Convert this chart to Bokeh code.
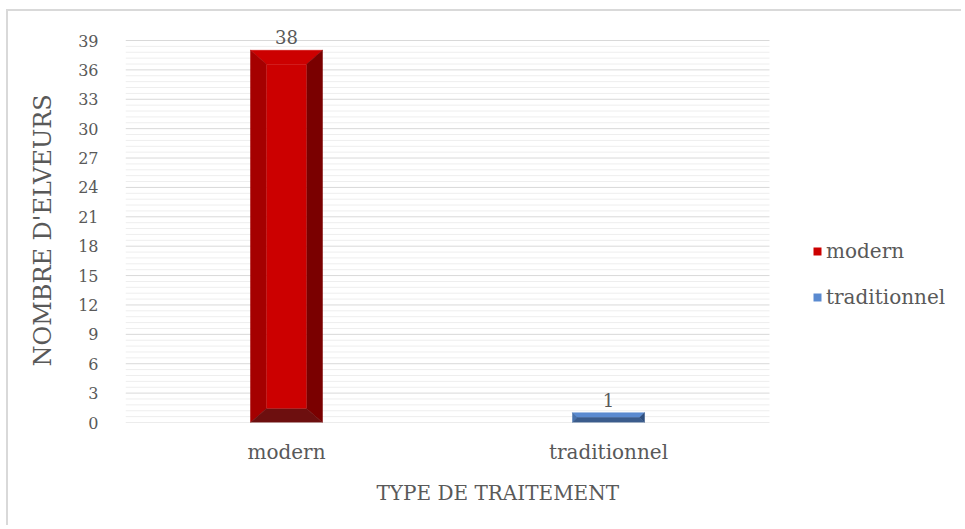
from bokeh.plotting import figure
from bokeh.models import (Range1d, FixedTicker, Legend, LegendItem, ColumnDataSource, Title)
from bokeh.core.properties import value
from bokeh.embed import file_html
from bokeh.resources import INLINE

categories = ["modern", "traditionnel"]
counts = [38, 1]
y_ticks = list(range(0, 40, 3))
y_minor = [round(k * 0.6, 1) for k in range(0, 66) if k % 5 != 0]
x_title = "TYPE DE TRAITEMENT"
y_title = "NOMBRE D'ELVEURS"

FONT = "DejaVu Serif"
TXT = "#595959"

# page coords of content origin (after css margin + border)
OX, OY = 8, 11
W, H = 955, 516
FRAME_L, FRAME_B, Y39 = 125, 422, 40
CAT_R = 769

ML = FRAME_L - OX
MB = (OY + H) - FRAME_B
MT = 4
MR = 0
frame_h = H - MT - MB
frame_w = W - ML - MR
px_y = (FRAME_B - Y39) / 39
px_x = (CAT_R - FRAME_L) / len(categories)
y_end = frame_h / px_y
x_start = -0.5
x_end = x_start + frame_w / px_x
cat_lo, cat_hi = -0.5, len(categories) - 0.5

p = figure(width=W, height=H, output_backend="svg", toolbar_location=None,
           x_range=Range1d(x_start, x_end), y_range=Range1d(0, y_end),
           min_border_left=ML, min_border_right=MR, min_border_top=MT,
           min_border_bottom=MB)
p.styles = {"border-left": "2px solid #d9d9d9", "border-top": "2px solid #d9d9d9",
            "margin-left": "6px", "margin-top": "9px"}
p.outline_line_color = None
p.background_fill_color = "white"
p.border_fill_color = "white"

# gridlines (limited to the category area)
p.segment(x0=[cat_lo] * len(y_minor), x1=[cat_hi] * len(y_minor), y0=y_minor, y1=y_minor,
          line_color="#eeeeee", line_width=1)
p.segment(x0=[cat_lo] * len(y_ticks), x1=[cat_hi] * len(y_ticks), y0=y_ticks, y1=y_ticks,
          line_color="#d9d9d9", line_width=1)

bar_w = 72 / px_x

palettes = [
    dict(front="#cc0000", top="#cc0000", left="#a50000", right="#7a0000", bottom="#6d0f0f"),
    dict(front="#5a8ad0", top="#5a8ad0", left="#4872ad", right="#2f4f7f", bottom="#3b5c8c"),
]

legend_items = []
for i, (cat, v) in enumerate(zip(categories, counts)):
    pal = palettes[i]
    x0, x1 = i - bar_w / 2, i + bar_w / 2
    y0, y1 = 0, v
    h_px = v * px_y
    iv = min(14, h_px / 2) / px_y
    ih = min(16, h_px / 2) / px_x
    xi0, xi1, yi0, yi1 = x0 + ih, x1 - ih, y0 + iv, y1 - iv
    xs = [[x0, x1, xi1, xi0], [x0, x0, xi0, xi0], [x1, x1, xi1, xi1], [x0, x1, xi1, xi0]]
    ys = [[y1, y1, yi1, yi1], [y0, y1, yi1, yi0], [y0, y1, yi1, yi0], [y0, y0, yi0, yi0]]
    cols = [pal["top"], pal["left"], pal["right"], pal["bottom"]]
    p.patches(xs=xs, ys=ys, fill_color=cols, line_color=cols, line_width=0.5)
    fr = p.quad(left=[xi0], right=[xi1], bottom=[yi0], top=[yi1],
                fill_color=pal["front"], line_color=None)
    legend_items.append(LegendItem(label=cat, renderers=[fr]))

src = ColumnDataSource(dict(x=list(range(len(categories))), y=counts,
                            t=[str(c) for c in counts]))
p.text(x="x", y="y", text="t", source=src, text_align="center", text_baseline="bottom",
       y_offset=-6, text_font=value(FONT), text_font_size="18px", text_color=TXT)

# axes
p.yaxis.ticker = FixedTicker(ticks=y_ticks)
p.yaxis.axis_line_color = None
p.yaxis.major_tick_line_color = None
p.yaxis.minor_tick_line_color = None
p.yaxis.major_label_standoff = 21
p.yaxis.major_label_text_font_size = "16px"

p.xaxis.ticker = FixedTicker(ticks=list(range(len(categories))))
p.xaxis.major_label_overrides = {i: c for i, c in enumerate(categories)}
p.xaxis.axis_line_color = None
p.xaxis.major_tick_line_color = None
p.xaxis.minor_tick_line_color = None
p.xaxis.major_label_standoff = 11
p.xaxis.major_label_text_font_size = "20px"

for ax in (p.xaxis[0], p.yaxis[0]):
    ax.major_label_text_font = FONT
    ax.major_label_text_color = TXT

# axis titles, centred on the category / tick area
xt = Title(text=x_title, align="left", offset=251, standoff=25,
           text_font=FONT, text_font_size="20px", text_font_style="normal",
           text_color=TXT)
p.add_layout(xt, "below")
yt = Title(text=y_title, align="left", offset=56, standoff=37,
           text_font=FONT, text_font_size="24px", text_font_style="normal",
           text_color=TXT)
p.add_layout(yt, "left")

p.xgrid.grid_line_color = None
p.ygrid.grid_line_color = None

legend = Legend(items=legend_items, location=(CAT_R - FRAME_L + 43, 113),
                label_text_font=FONT, label_text_font_size="20px", label_text_color=TXT,
                glyph_width=10, glyph_height=10, label_standoff=4, spacing=22,
                border_line_color=None, background_fill_alpha=0, margin=0, padding=0)
p.add_layout(legend, "center")

open("out.html", "w").write(file_html(p, INLINE))
